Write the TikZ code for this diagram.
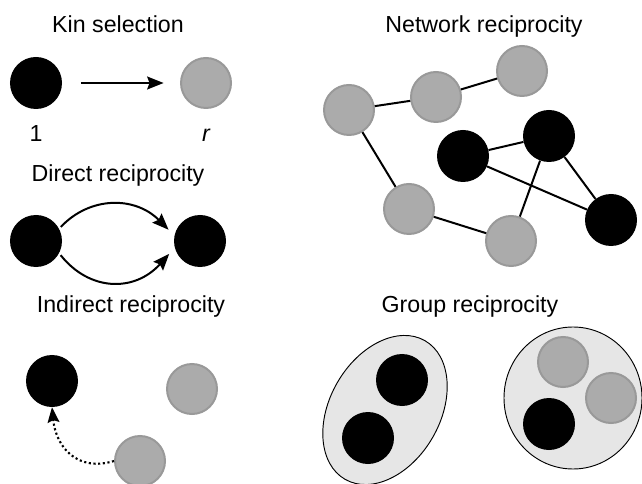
\documentclass[tikz,border=0pt]{standalone}
\usepackage{fontspec}
\setmainfont{Liberation Sans}
\usepackage{tikz}
\definecolor{agentgray}{HTML}{ABABAB}
\definecolor{agentedge}{HTML}{999999}
\definecolor{groupfill}{HTML}{E6E6E6}
\usetikzlibrary{shapes.geometric, arrows.meta, positioning, calc}

\begin{document}
\begin{tikzpicture}[x=0.03cm, y=-0.03cm,
    coop/.style={circle, fill=black, minimum size=1.56cm, inner sep=0pt},
    defect/.style={circle, fill=agentgray, draw=agentedge, line width=1.7pt, minimum size=1.5cm, inner sep=0pt},
    title/.style={font=\fontsize{19.8}{23}\selectfont, anchor=base, inner sep=0pt},
    link/.style={line width=1.7pt},
    act/.style={line width=1.7pt, -{Stealth[length=14pt, width=11pt, inset=2pt]}},
    grp/.style={ellipse, fill=groupfill, draw=black, line width=0.8pt, inner sep=0pt}]
\useasboundingbox (0,0) rectangle (642,484);

% Titles of the five mechanisms
\node[title] (tkin) at (118,33) {Kin selection};
\node[title] (tdir) at (118,182) {Direct reciprocity};
\node[title] (tind) at (131,313) {Indirect reciprocity};
\node[title] (tnet) at (484,33) {Network reciprocity};
\node[title] (tgrp) at (470,313) {Group reciprocity};

% Kin selection
\node[coop] (kself) at (36,83) {};
\node[defect] (kkin) at (206,83) {};
\node[title] (kone) at (36,142) {1};
\node[title] (kr) at (206,142) {\itshape r};
\draw[act, shorten <=16pt, shorten >=14pt] (kself) -- (kkin);

% Direct reciprocity
\node[coop] (dl) at (36,241) {};
\node[coop] (dr) at (200,241) {};
\draw[act, shorten <=2pt, shorten >=7pt] (dl.28) .. controls (90,196) and (135,196) .. (dr.168);
\draw[act, shorten <=2pt, shorten >=7pt] (dl.-28) .. controls (90,292) and (135,292) .. (dr.-165);

% Indirect reciprocity
\node[coop] (ib) at (52,381) {};
\node[defect] (ig1) at (192,389) {};
\node[defect] (ig2) at (140,461) {};
\draw[line width=1.8pt, dash pattern=on 1.8pt off 2.2pt, -{Stealth[length=13pt, width=10pt, inset=2pt]}]
  (ig2.west) .. controls (78,472) and (56,448) .. (ib.south);

% Network reciprocity
\foreach \nm/\px/\py in {n1/349/110, n2/436/97, n3/522/71, n4/409/209, n5/511/241}
  \node[defect] (\nm) at (\px,\py) {};
\foreach \nm/\px/\py in {m1/463/156, m2/549/136, m3/611/220}
  \node[coop] (\nm) at (\px,\py) {};
\foreach \a/\b in {n1/n2, n2/n3, n1/n4, n4/n5, n5/m2, m1/m2, m1/m3, m2/m3}
  \draw[link] (\a) -- (\b);

% Group reciprocity
\node[grp, minimum width=4.8cm, minimum height=3.3cm, rotate=60] (gr1) at (385,410) {};
\node[grp, minimum width=4.14cm, minimum height=4.26cm] (gr2) at (573,398) {};
\node[coop] (gc1) at (402,380) {};
\node[coop] (gc2) at (368,438) {};
\node[defect] (gc3) at (563,362) {};
\node[defect] (gc4) at (611,398) {};
\node[coop] (gc5) at (549,424) {};
\end{tikzpicture}
\end{document}
